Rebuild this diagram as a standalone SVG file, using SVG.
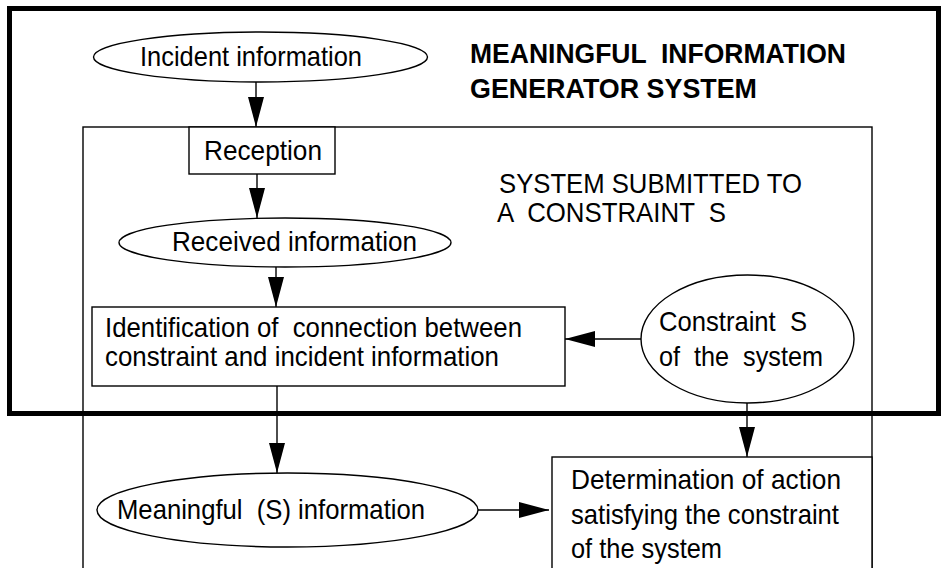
<svg xmlns="http://www.w3.org/2000/svg" width="948" height="568" viewBox="0 0 948 568">
<style>
.shape{fill:#fff;stroke:#000;stroke-width:1.4}
.t{font-family:"Liberation Sans",Arial,sans-serif;font-size:28.5px;fill:#000;white-space:pre}
.b{font-weight:bold}
.c{stroke:#000;stroke-width:1.4;fill:none;marker-end:url(#ah)}
</style>
<defs>
<marker id="ah" viewBox="0 0 30 16" refX="30" refY="8" markerWidth="30" markerHeight="16" markerUnits="userSpaceOnUse" orient="auto">
<path d="M0,0 L30,8 L0,16 z" fill="#000"/>
</marker>
</defs>
<rect width="948" height="568" fill="#fff"/>
<g id="system-submitted">
<rect class="shape" x="83" y="127" width="789" height="445"/>
<text class="t" x="499" y="193" textLength="303" lengthAdjust="spacingAndGlyphs">SYSTEM SUBMITTED TO</text>
<text class="t" x="497" y="222" textLength="229" lengthAdjust="spacingAndGlyphs">A  CONSTRAINT  S</text>
</g>
<g id="incident">
<ellipse class="shape" cx="260.5" cy="57" rx="167" ry="25"/>
<text class="t" x="140" y="66" textLength="222" lengthAdjust="spacingAndGlyphs">Incident information</text>
</g>
<g id="reception">
<rect class="shape" x="189" y="127" width="146" height="47"/>
<text class="t" x="204" y="160" textLength="118" lengthAdjust="spacingAndGlyphs">Reception</text>
</g>
<g id="received">
<ellipse class="shape" cx="285" cy="242.5" rx="166" ry="24.5"/>
<text class="t" x="172" y="251" textLength="245" lengthAdjust="spacingAndGlyphs">Received information</text>
</g>
<g id="identification">
<rect class="shape" x="92" y="307" width="473" height="79"/>
<text class="t" x="105" y="337" textLength="417" lengthAdjust="spacingAndGlyphs">Identification of  connection between</text>
<text class="t" x="105" y="366" textLength="394" lengthAdjust="spacingAndGlyphs">constraint and incident information</text>
</g>
<g id="constraint">
<ellipse class="shape" cx="747.5" cy="339" rx="106.5" ry="64"/>
<text class="t" x="659" y="331" textLength="148" lengthAdjust="spacingAndGlyphs">Constraint  S</text>
<text class="t" x="659" y="366" textLength="164" lengthAdjust="spacingAndGlyphs">of  the  system</text>
</g>
<g id="meaningful">
<ellipse class="shape" cx="287.5" cy="510" rx="190.5" ry="37"/>
<text class="t" x="117" y="519" textLength="308" lengthAdjust="spacingAndGlyphs">Meaningful  (S) information</text>
</g>
<g id="determination">
<rect class="shape" x="552" y="457" width="320" height="115"/>
<text class="t" x="571" y="489" textLength="270" lengthAdjust="spacingAndGlyphs">Determination of action</text>
<text class="t" x="571" y="524" textLength="268" lengthAdjust="spacingAndGlyphs">satisfying the constraint</text>
<text class="t" x="571" y="558" textLength="151" lengthAdjust="spacingAndGlyphs">of the system</text>
</g>
<g id="connectors">
<line class="c" x1="256" y1="82" x2="256" y2="127"/>
<line class="c" x1="257" y1="174" x2="257" y2="218"/>
<line class="c" x1="276" y1="267" x2="276" y2="307"/>
<line class="c" x1="641" y1="339" x2="565" y2="339"/>
<line class="c" x1="277" y1="386" x2="277" y2="473"/>
<line class="c" x1="747" y1="403" x2="747" y2="457"/>
<line class="c" x1="478" y1="510" x2="549" y2="510"/>
</g>
<g id="generator-system">
<rect x="9.5" y="8.5" width="929" height="405" fill="none" stroke="#000" stroke-width="5"/>
<text class="t b" x="470" y="63" textLength="376" lengthAdjust="spacingAndGlyphs">MEANINGFUL  INFORMATION</text>
<text class="t b" x="470" y="98" textLength="287" lengthAdjust="spacingAndGlyphs">GENERATOR SYSTEM</text>
</g>
</svg>
